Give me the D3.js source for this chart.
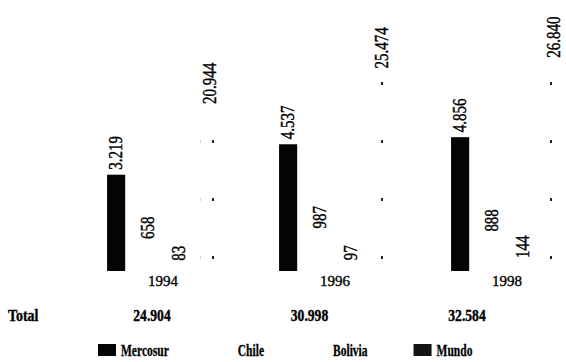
<!DOCTYPE html>
<html>
<head>
<meta charset="utf-8">
<script src="https://cdn.jsdelivr.net/npm/d3@7/dist/d3.min.js"></script>
<style>
  html, body { margin: 0; padding: 0; background: #fff; }
  svg { display: block; }
  text { font-family: "Liberation Serif", "Times New Roman", serif; fill: #000; }
  .val, .year { stroke: #000; stroke-width: 0.35px; }
</style>
</head>
<body>
<svg id="chart" width="566" height="362"></svg>
<script>
// Exportaciones por destino (miles), 1994-1998
const years = ["1994", "1996", "1998"];
const series = ["Mercosur", "Chile", "Bolivia", "Mundo"];
const mercosur = [3219, 4537, 4856];
const chile = [658, 987, 888];
const bolivia = [83, 97, 144];
const mundo = [20944, 25474, 26840];
const totals = [24904, 30998, 32584];
const totalLabel = "Total";

const valuesBySeries = { Mercosur: mercosur, Chile: chile, Bolivia: bolivia, Mundo: mundo };

const svg = d3.select("#chart");
const baseY = 271;

const fmt = d3.formatLocale({ decimal: ",", thousands: ".", grouping: [3], currency: ["", ""] }).format(",d");

// group centres and bars within each group
const xGroup = d3.scalePoint().domain(years).range([163, 507]);
const xInner = d3.scaleBand().domain(series).range([-62.5, 62.5]).paddingInner(0.42).paddingOuter(0.21);
const bw = xInner.bandwidth();

// primary axis (Mercosur, Chile, Bolivia) and secondary axis (Mundo)
const yPrim = d3.scalePow().exponent(0.8).domain([0, 5000]).range([baseY, baseY - 137]);
const ySec = d3.scaleLinear().domain([0, 30000]).range([baseY, baseY - 235]);
const yFor = s => (s === "Mundo" ? ySec : yPrim);

const fills = { Mercosur: "#050505", Chile: "#ffffff", Bolivia: "#ffffff", Mundo: "url(#mundoFill)" };
const keyFills = { Mercosur: "#050505", Chile: "#ffffff", Bolivia: "#ffffff", Mundo: "#141414" };

// sparse speckled fill for the Mundo series
const defs = svg.append("defs");
const pat = defs.append("pattern")
  .attr("id", "mundoFill")
  .attr("patternUnits", "userSpaceOnUse")
  .attr("width", 13).attr("height", 58);
pat.append("rect").attr("width", 13).attr("height", 58).attr("fill", "#fff");
pat.append("rect").attr("x", 4).attr("y", 24).attr("width", 2).attr("height", 3).attr("fill", "#222");

const rows = [];
series.forEach(s => {
  years.forEach((yr, i) => rows.push({ s, yr, v: valuesBySeries[s][i] }));
});

const plot = svg.append("g");

plot.selectAll("rect.bar")
  .data(rows)
  .join("rect")
  .attr("class", "bar")
  .attr("x", d => xGroup(d.yr) + xInner(d.s))
  .attr("y", d => yFor(d.s)(d.v))
  .attr("width", bw)
  .attr("height", d => baseY - yFor(d.s)(d.v))
  .attr("fill", d => fills[d.s]);

// rotated value labels above each bar
plot.selectAll("text.val")
  .data(rows)
  .join("text")
  .attr("class", "val")
  .attr("transform", d => {
    const cx = xGroup(d.yr) + xInner(d.s) + bw / 2;
    const ty = yFor(d.s)(d.v) - (d.s === "Mundo" ? 3 : 5);
    return `translate(${cx},${ty}) rotate(-90) scale(1,1.2)`;
  })
  .attr("dy", "0.35em")
  .attr("text-anchor", "start")
  .style("font-size", "15px")
  .text(d => fmt(d.v));

// category labels
plot.selectAll("text.year")
  .data(years)
  .join("text")
  .attr("class", "year")
  .attr("x", d => xGroup(d))
  .attr("y", 286)
  .attr("text-anchor", "middle")
  .style("font-size", "15px")
  .text(d => d);

// totals row
const xTotal = d3.scalePoint().domain(years).range([152, 467]);
const tableRow = svg.append("g");
tableRow.append("text")
  .attr("transform", "translate(8,321) scale(0.82,1)")
  .style("font-size", "17px")
  .style("font-weight", "bold")
  .style("stroke", "#000").style("stroke-width", "0.4px")
  .text(totalLabel);
tableRow.selectAll("text.tot")
  .data(years)
  .join("text")
  .attr("class", "tot")
  .attr("transform", d => `translate(${xTotal(d)},321) scale(0.8,1)`)
  .attr("text-anchor", "middle")
  .style("font-size", "17px")
  .style("font-weight", "bold")
  .style("stroke", "#000").style("stroke-width", "0.4px")
  .text((d, i) => fmt(totals[i]));

// legend
const legend = svg.append("g");
let lx = 98;
series.forEach(s => {
  legend.append("rect")
    .attr("x", lx).attr("y", 344)
    .attr("width", 18).attr("height", 12)
    .attr("fill", keyFills[s]);
  const t = legend.append("text")
    .attr("transform", `translate(${lx + 23},356) scale(0.72,1)`)
    .style("font-size", "16px")
    .style("font-weight", "bold")
    .style("stroke", "#000").style("stroke-width", "0.3px")
    .text(s);
  const w = t.node().getComputedTextLength() * 0.72;
  lx = lx + 23 + w + 46;
});
</script>
</body>
</html>
